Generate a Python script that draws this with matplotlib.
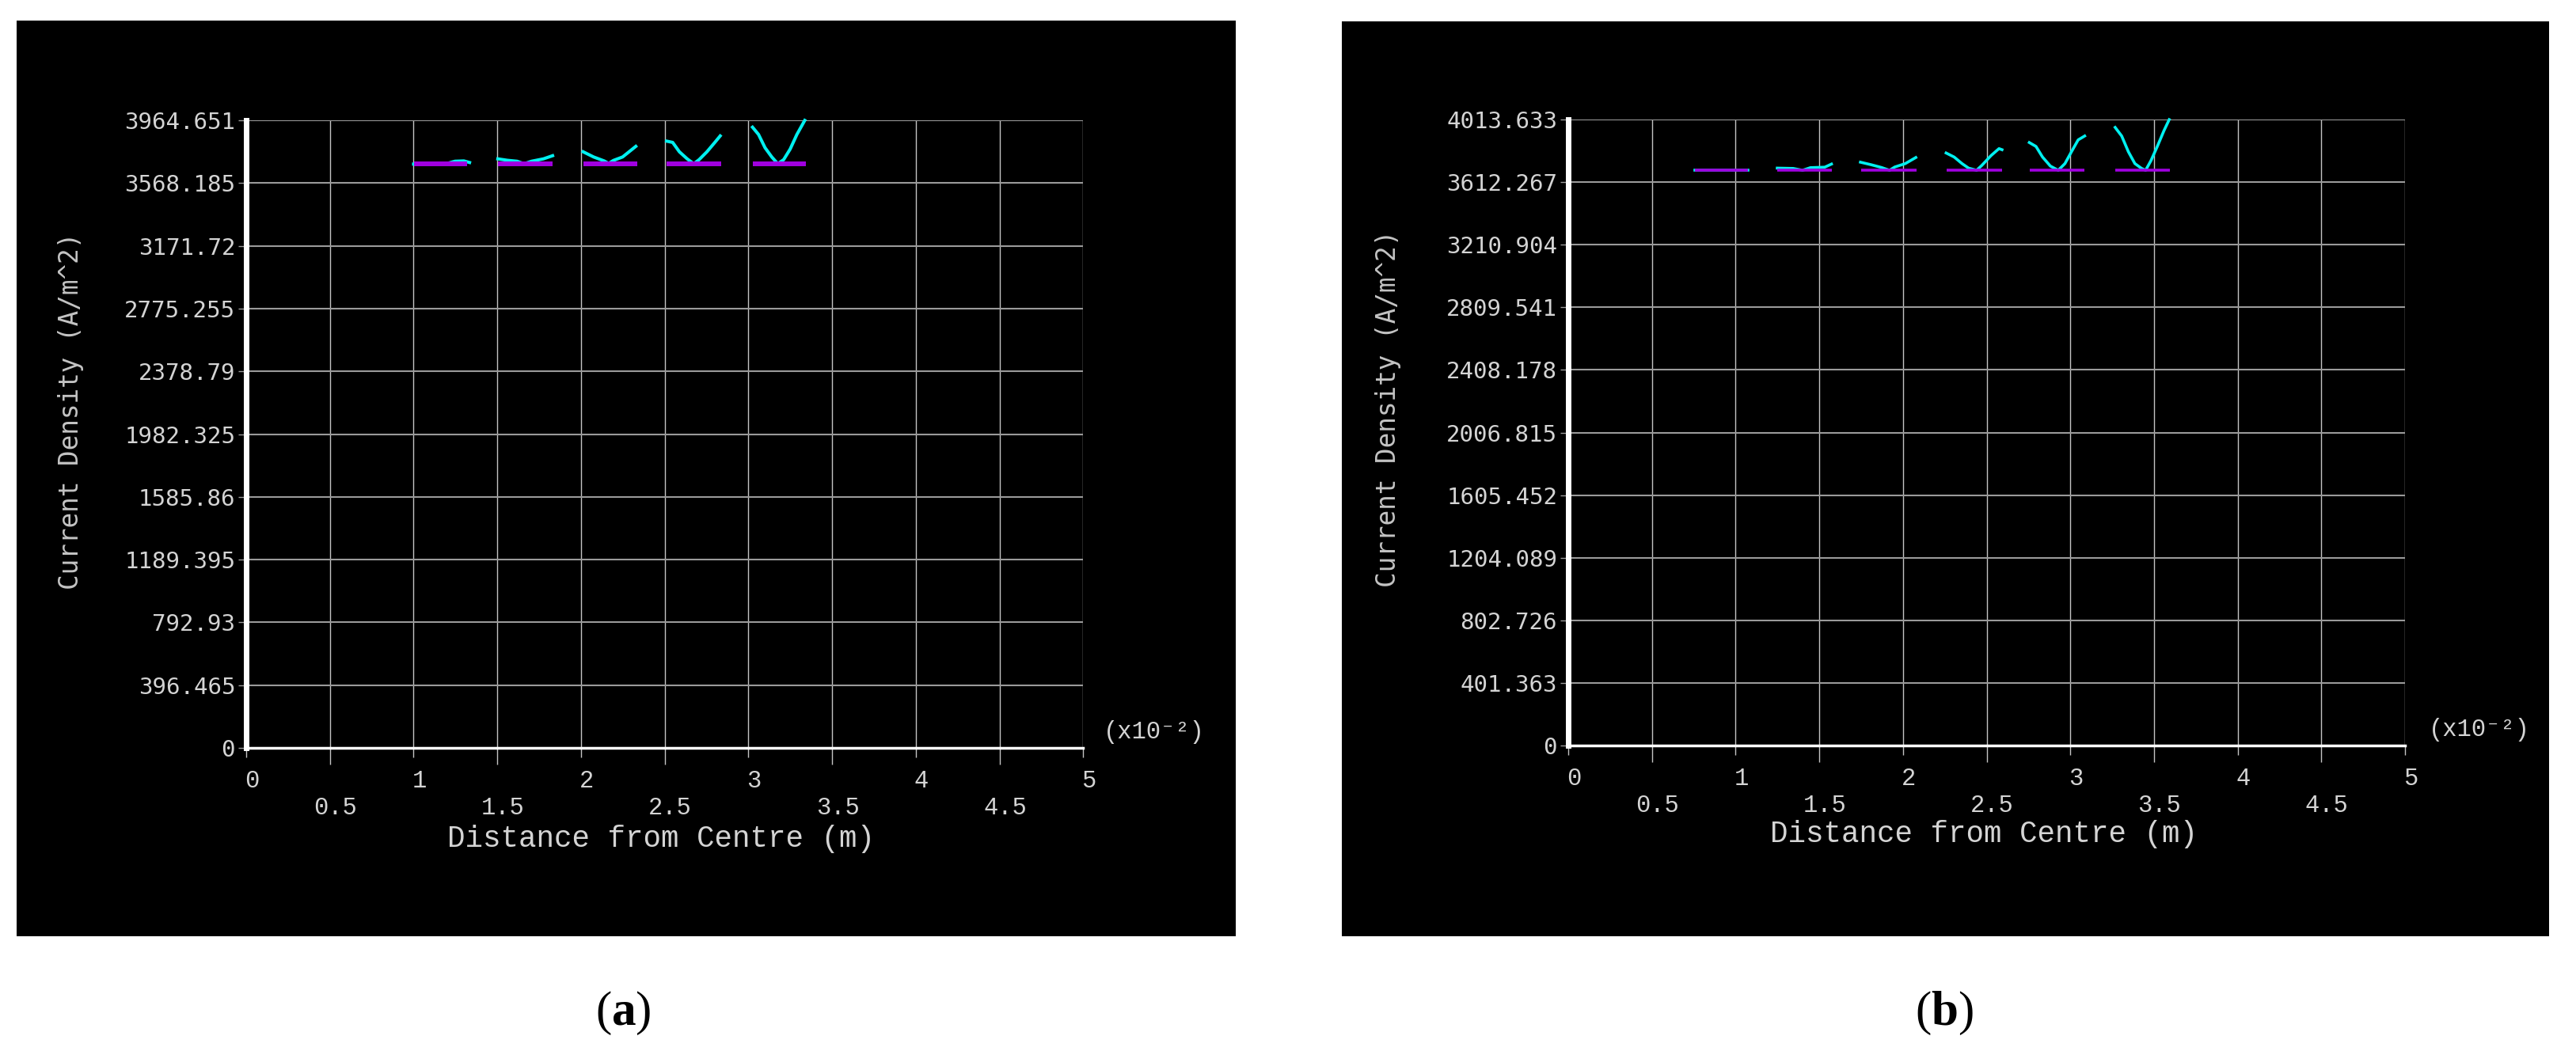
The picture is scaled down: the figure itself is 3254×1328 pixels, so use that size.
import numpy as np
import matplotlib
matplotlib.use("Agg")
import matplotlib.pyplot as plt
from matplotlib.patches import Rectangle
from matplotlib.transforms import ScaledTranslation

plt.rcParams['mathtext.fontset'] = 'custom'
plt.rcParams['mathtext.rm'] = 'Liberation Serif'
plt.rcParams['mathtext.bf'] = 'Liberation Serif:bold'

# x axis (in units of 1e-2 m)
x_major = [0, 1, 2, 3, 4, 5]
x_minor = [0.5, 1.5, 2.5, 3.5, 4.5]

# panel (a)
a_yticks = ["0", "396.465", "792.93", "1189.395", "1585.86", "1982.325",
            "2378.79", "2775.255", "3171.72", "3568.185", "3964.651"]
a_dc_start = [1.001, 1.502, 2.012, 2.511, 3.024]
a_dc_end = [1.317, 1.830, 2.335, 2.839, 3.343]
a_dc_value = 3690
a_ac_x = [
    [1.00, 1.10, 1.20, 1.247, 1.30, 1.334],
    [1.503, 1.560, 1.618, 1.660, 1.704, 1.775, 1.830],
    [2.012, 2.075, 2.138, 2.165, 2.193, 2.248, 2.287, 2.327],
    [2.511, 2.547, 2.587, 2.634, 2.673, 2.705, 2.752, 2.799, 2.831],
    [3.024, 3.060, 3.099, 3.139, 3.175, 3.210, 3.249, 3.289, 3.336],
]
a_ac_y = [
    [3688, 3688, 3692, 3706, 3708, 3698],
    [3721, 3712, 3706, 3690, 3706, 3721, 3741],
    [3766, 3733, 3708, 3692, 3711, 3733, 3766, 3800],
    [3833, 3825, 3766, 3721, 3690, 3716, 3766, 3825, 3866],
    [3921, 3875, 3791, 3733, 3690, 3716, 3783, 3875, 3964],
]

# panel (b)
b_yticks = ["0", "401.363", "802.726", "1204.089", "1605.452", "2006.815",
            "2408.178", "2809.541", "3210.904", "3612.267", "4013.633"]
b_dc_start = [0.756, 1.249, 1.751, 2.263, 2.758, 3.268]
b_dc_end = [1.073, 1.576, 2.080, 2.591, 3.083, 3.594]
b_dc_value = 3690
b_ac_x = [
    [0.756, 0.85, 0.95, 1.073],
    [1.249, 1.344, 1.40, 1.447, 1.533, 1.573],
    [1.746, 1.809, 1.872, 1.920, 1.951, 2.014, 2.077],
    [2.258, 2.306, 2.353, 2.392, 2.440, 2.471, 2.526, 2.574, 2.592],
    [2.755, 2.795, 2.834, 2.881, 2.928, 2.968, 3.007, 3.047, 3.086],
    [3.268, 3.307, 3.347, 3.386, 3.426, 3.450, 3.481, 3.520, 3.560, 3.591],
]
b_ac_y = [
    [3688, 3688, 3688, 3688],
    [3702, 3700, 3688, 3705, 3708, 3728],
    [3740, 3724, 3706, 3688, 3709, 3731, 3770],
    [3799, 3773, 3731, 3702, 3688, 3719, 3782, 3827, 3820],
    [3866, 3841, 3773, 3715, 3688, 3731, 3807, 3883, 3908],
    [3963, 3908, 3807, 3731, 3700, 3688, 3748, 3841, 3943, 4013],
]

W, H = 3255, 1328
fig = plt.figure(figsize=(W / 100, H / 100), dpi=100)
fig.patch.set_facecolor("white")

GRID_H = "#9a9a9a"
GRID_V = "#c4c4c4"
TXT = "#d4d4d4"
MONO = "DejaVu Sans Mono"
COUR = "Liberation Mono"


def px_box(x0, y0, x1, y1):
    return [x0 / W, 1 - y1 / H, (x1 - x0) / W, (y1 - y0) / H]


def draw_panel(box, black, yticks, dc_start, dc_end, dc_val, ac_x, ac_y,
               dc_lw, ac_lw, xlab_pos, ylab_pos, exp_pos, letter, letter_x):
    # black screenshot background behind the axes
    bg = fig.add_axes(px_box(*black), zorder=-5)
    bg.set_facecolor("black")
    bg.set_xticks([])
    bg.set_yticks([])
    for s in bg.spines.values():
        s.set_visible(False)

    ax = fig.add_axes(px_box(*box))
    ax.set_facecolor("black")
    ymax = float(yticks[-1])
    ax.set_xlim(0, 5)
    ax.set_ylim(0, ymax)

    for xs, xe in zip(dc_start, dc_end):
        ax.plot([xs, xe], [dc_val, dc_val], color="#a000e0", lw=dc_lw,
                solid_capstyle="butt", zorder=4)
    for xs, ys in zip(ac_x, ac_y):
        ax.plot(xs, ys, color="#00f0f0", lw=ac_lw, zorder=3, clip_on=False)

    ax.set_yticks([float(t) for t in yticks])
    ax.set_yticklabels(yticks, family=MONO, fontsize=21, color=TXT)
    ax.set_xticks(x_major)
    ax.set_xticklabels([str(v) for v in x_major], family=COUR, fontsize=22, color=TXT)
    ax.set_xticks(x_minor, minor=True)
    ax.set_xticklabels([str(v) for v in x_minor], minor=True, family=COUR,
                       fontsize=22, color=TXT)
    ax.tick_params(axis="y", length=7, width=1, color=GRID_H, pad=3)
    ax.tick_params(axis="x", which="major", length=8.6, width=1, color=GRID_V, pad=11)
    ax.tick_params(axis="x", which="minor", length=15, width=1, color=GRID_V, pad=29)
    offset = ScaledTranslation(0.07, 0, fig.dpi_scale_trans)
    for lab in ax.xaxis.get_majorticklabels() + ax.xaxis.get_minorticklabels():
        lab.set_transform(lab.get_transform() + offset)

    ax.yaxis.grid(True, color=GRID_H, lw=1.5)
    ax.xaxis.grid(True, which="both", color=GRID_V, lw=1.0)
    ax.set_axisbelow(True)

    for side in ("top", "right"):
        ax.spines[side].set_visible(False)
    ax.spines["left"].set_color("white")
    ax.spines["left"].set_linewidth(5)
    ax.spines["bottom"].set_color("white")
    ax.spines["bottom"].set_linewidth(2.5)

    ax.set_xlabel("Distance from Centre (m)", family=COUR, fontsize=27, color=TXT, va="center")
    ax.xaxis.set_label_coords(*xlab_pos)
    ax.set_ylabel("Current Density (A/m^2)", family=MONO, fontsize=23.5, color="#c4c4c4",
                  va="center")
    ax.yaxis.set_label_coords(*ylab_pos)
    ax.text(exp_pos[0], exp_pos[1], "(x10\u207b\u00b2)", transform=ax.transAxes,
            family=[COUR, "DejaVu Sans Mono"], fontsize=22, color=TXT,
            ha="left", va="center")

    fig.text(letter_x / W, 1 - 1280 / H, "($\\mathbf{" + letter + "}$)",
             family="Liberation Serif", fontsize=44, color="black",
             ha="center", va="center")
    return ax


draw_panel((311, 152, 1368.5, 945), (21, 26, 1561, 1183), a_yticks,
           a_dc_start, a_dc_end, a_dc_value, a_ac_x, a_ac_y,
           dc_lw=4.3, ac_lw=2.9,
           xlab_pos=(0.4955, -0.145), ylab_pos=(-0.209, 0.537),
           exp_pos=(1.024, 0.025), letter="a", letter_x=787)

draw_panel((1981, 151, 3038, 942), (1695, 27, 3220, 1183), b_yticks,
           b_dc_start, b_dc_end, b_dc_value, b_ac_x, b_ac_y,
           dc_lw=2.6, ac_lw=2.6,
           xlab_pos=(0.4967, -0.1416), ylab_pos=(-0.2157, 0.5386),
           exp_pos=(1.028, 0.025), letter="b", letter_x=2456)

fig.savefig("out.png", dpi=100, facecolor=fig.get_facecolor())
